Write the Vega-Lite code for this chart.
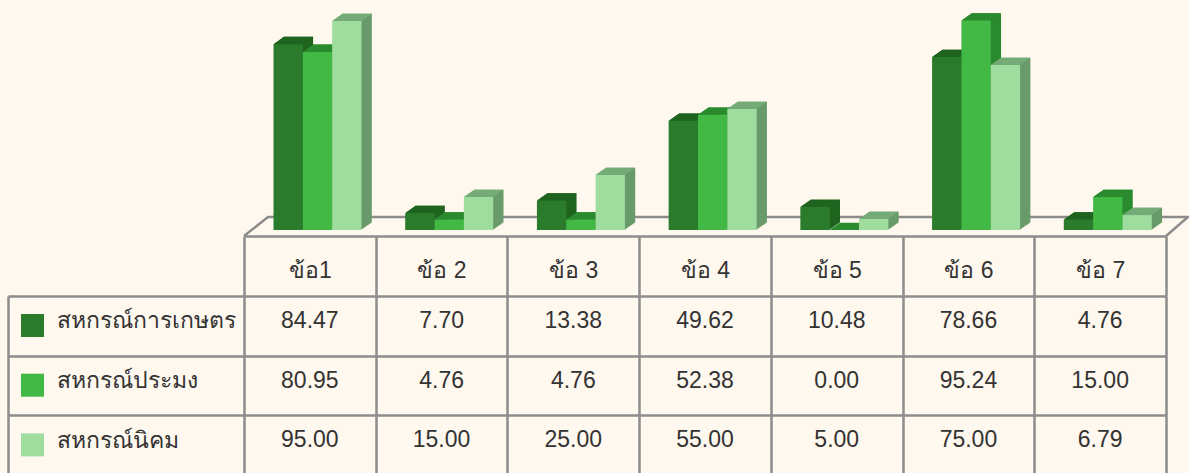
{"$schema":"https://vega.github.io/schema/vega-lite/v6.json","background":"#fff8ee","padding":{"left":6,"top":10,"right":1,"bottom":0},
"datasets":{"d":[
{"q":"ข้อ1","s":"สหกรณ์การเกษตร","v":84.47},{"q":"ข้อ 2","s":"สหกรณ์การเกษตร","v":7.70},{"q":"ข้อ 3","s":"สหกรณ์การเกษตร","v":13.38},{"q":"ข้อ 4","s":"สหกรณ์การเกษตร","v":49.62},{"q":"ข้อ 5","s":"สหกรณ์การเกษตร","v":10.48},{"q":"ข้อ 6","s":"สหกรณ์การเกษตร","v":78.66},{"q":"ข้อ 7","s":"สหกรณ์การเกษตร","v":4.76},
{"q":"ข้อ1","s":"สหกรณ์ประมง","v":80.95},{"q":"ข้อ 2","s":"สหกรณ์ประมง","v":4.76},{"q":"ข้อ 3","s":"สหกรณ์ประมง","v":4.76},{"q":"ข้อ 4","s":"สหกรณ์ประมง","v":52.38},{"q":"ข้อ 5","s":"สหกรณ์ประมง","v":0},{"q":"ข้อ 6","s":"สหกรณ์ประมง","v":95.24},{"q":"ข้อ 7","s":"สหกรณ์ประมง","v":15.00},
{"q":"ข้อ1","s":"สหกรณ์นิคม","v":95.00},{"q":"ข้อ 2","s":"สหกรณ์นิคม","v":15.00},{"q":"ข้อ 3","s":"สหกรณ์นิคม","v":25.00},{"q":"ข้อ 4","s":"สหกรณ์นิคม","v":55.00},{"q":"ข้อ 5","s":"สหกรณ์นิคม","v":5.00},{"q":"ข้อ 6","s":"สหกรณ์นิคม","v":75.00},{"q":"ข้อ 7","s":"สหกรณ์นิคม","v":6.79}]},
"data":{"name":"d"},
"spacing":-7,
"config":{"view":{"stroke":null},"font":"Liberation Sans"},
"vconcat":[
{"width":922,"height":220,
"encoding":{
"x":{"field":"q","type":"nominal","sort":null,"axis":null,"scale":{"type":"band","domain":["ข้อ1","ข้อ 2","ข้อ 3","ข้อ 4","ข้อ 5","ข้อ 6","ข้อ 7"],"paddingInner":0,"paddingOuter":0}}
},
"resolve":{"scale":{"color":"independent","xOffset":"independent","y":"independent"}},
"layer":[
{"transform":[{"filter":"datum.q==='ข้อ 4' && datum.v===49.62"}],
 "mark":{"type":"point","shape":"M-439.3 6L-415.3 -13L504.7 -13L482.7 6","size":4,"filled":false,"stroke":"#8c8c8c","strokeWidth":2.5,"opacity":1},
 "encoding":{"xOffset":{"field":"s","type":"nominal","scale":{"type":"band","domain":["สหกรณ์การเกษตร","สหกรณ์ประมง","สหกรณ์นิคม"],"range":[29.5,117.5],"paddingInner":0,"paddingOuter":0}},"y":{"datum":0,"type":"quantitative","axis":null,"scale":{"domain":[0,100],"range":[220,0]}}}},
{"mark":{"type":"bar"},"encoding":{"xOffset":{"field":"s","type":"nominal","sort":null,"scale":{"type":"band","domain":["สหกรณ์การเกษตร","สหกรณ์ประมง","สหกรณ์นิคม"],"range":[30.53,118.53],"paddingInner":0,"paddingOuter":0}},"y":{"field":"v","type":"quantitative","axis":null,"scale":{"domain":[0,100],"range":[219.27,-0.73]}},"color":{"field":"s","sort":null,"scale":{"domain":["สหกรณ์การเกษตร","สหกรณ์ประมง","สหกรณ์นิคม"],"range":["#1e641f","#2a8a2e","#689a6a"]},"legend":null}}},
{"mark":{"type":"bar"},"encoding":{"xOffset":{"field":"s","type":"nominal","sort":null,"scale":{"type":"band","domain":["สหกรณ์การเกษตร","สหกรณ์ประมง","สหกรณ์นิคม"],"range":[31.56,119.56],"paddingInner":0,"paddingOuter":0}},"y":{"field":"v","type":"quantitative","axis":null,"scale":{"domain":[0,100],"range":[218.54,-1.46]}},"color":{"field":"s","sort":null,"scale":{"domain":["สหกรณ์การเกษตร","สหกรณ์ประมง","สหกรณ์นิคม"],"range":["#1e641f","#2a8a2e","#689a6a"]},"legend":null}}},
{"mark":{"type":"bar"},"encoding":{"xOffset":{"field":"s","type":"nominal","sort":null,"scale":{"type":"band","domain":["สหกรณ์การเกษตร","สหกรณ์ประมง","สหกรณ์นิคม"],"range":[32.59,120.59],"paddingInner":0,"paddingOuter":0}},"y":{"field":"v","type":"quantitative","axis":null,"scale":{"domain":[0,100],"range":[217.81,-2.19]}},"color":{"field":"s","sort":null,"scale":{"domain":["สหกรณ์การเกษตร","สหกรณ์ประมง","สหกรณ์นิคม"],"range":["#1e641f","#2a8a2e","#689a6a"]},"legend":null}}},
{"mark":{"type":"bar"},"encoding":{"xOffset":{"field":"s","type":"nominal","sort":null,"scale":{"type":"band","domain":["สหกรณ์การเกษตร","สหกรณ์ประมง","สหกรณ์นิคม"],"range":[33.62,121.62],"paddingInner":0,"paddingOuter":0}},"y":{"field":"v","type":"quantitative","axis":null,"scale":{"domain":[0,100],"range":[217.08,-2.92]}},"color":{"field":"s","sort":null,"scale":{"domain":["สหกรณ์การเกษตร","สหกรณ์ประมง","สหกรณ์นิคม"],"range":["#1e641f","#2a8a2e","#689a6a"]},"legend":null}}},
{"mark":{"type":"bar"},"encoding":{"xOffset":{"field":"s","type":"nominal","sort":null,"scale":{"type":"band","domain":["สหกรณ์การเกษตร","สหกรณ์ประมง","สหกรณ์นิคม"],"range":[34.65,122.65],"paddingInner":0,"paddingOuter":0}},"y":{"field":"v","type":"quantitative","axis":null,"scale":{"domain":[0,100],"range":[216.35,-3.65]}},"color":{"field":"s","sort":null,"scale":{"domain":["สหกรณ์การเกษตร","สหกรณ์ประมง","สหกรณ์นิคม"],"range":["#1e641f","#2a8a2e","#689a6a"]},"legend":null}}},
{"mark":{"type":"bar"},"encoding":{"xOffset":{"field":"s","type":"nominal","sort":null,"scale":{"type":"band","domain":["สหกรณ์การเกษตร","สหกรณ์ประมง","สหกรณ์นิคม"],"range":[35.68,123.68],"paddingInner":0,"paddingOuter":0}},"y":{"field":"v","type":"quantitative","axis":null,"scale":{"domain":[0,100],"range":[215.62,-4.38]}},"color":{"field":"s","sort":null,"scale":{"domain":["สหกรณ์การเกษตร","สหกรณ์ประมง","สหกรณ์นิคม"],"range":["#1e641f","#2a8a2e","#689a6a"]},"legend":null}}},
{"mark":{"type":"bar"},"encoding":{"xOffset":{"field":"s","type":"nominal","sort":null,"scale":{"type":"band","domain":["สหกรณ์การเกษตร","สหกรณ์ประมง","สหกรณ์นิคม"],"range":[36.71,124.71],"paddingInner":0,"paddingOuter":0}},"y":{"field":"v","type":"quantitative","axis":null,"scale":{"domain":[0,100],"range":[214.89,-5.11]}},"color":{"field":"s","sort":null,"scale":{"domain":["สหกรณ์การเกษตร","สหกรณ์ประมง","สหกรณ์นิคม"],"range":["#1e641f","#2a8a2e","#689a6a"]},"legend":null}}},
{"mark":{"type":"bar"},"encoding":{"xOffset":{"field":"s","type":"nominal","sort":null,"scale":{"type":"band","domain":["สหกรณ์การเกษตร","สหกรณ์ประมง","สหกรณ์นิคม"],"range":[37.74,125.74],"paddingInner":0,"paddingOuter":0}},"y":{"field":"v","type":"quantitative","axis":null,"scale":{"domain":[0,100],"range":[214.16,-5.84]}},"color":{"field":"s","sort":null,"scale":{"domain":["สหกรณ์การเกษตร","สหกรณ์ประมง","สหกรณ์นิคม"],"range":["#1e641f","#2a8a2e","#689a6a"]},"legend":null}}},
{"mark":{"type":"bar"},"encoding":{"xOffset":{"field":"s","type":"nominal","sort":null,"scale":{"type":"band","domain":["สหกรณ์การเกษตร","สหกรณ์ประมง","สหกรณ์นิคม"],"range":[38.77,126.77],"paddingInner":0,"paddingOuter":0}},"y":{"field":"v","type":"quantitative","axis":null,"scale":{"domain":[0,100],"range":[213.43,-6.57]}},"color":{"field":"s","sort":null,"scale":{"domain":["สหกรณ์การเกษตร","สหกรณ์ประมง","สหกรณ์นิคม"],"range":["#1e641f","#2a8a2e","#689a6a"]},"legend":null}}},
{"mark":{"type":"bar"},"encoding":{"xOffset":{"field":"s","type":"nominal","sort":null,"scale":{"type":"band","domain":["สหกรณ์การเกษตร","สหกรณ์ประมง","สหกรณ์นิคม"],"range":[39.8,127.8],"paddingInner":0,"paddingOuter":0}},"y":{"field":"v","type":"quantitative","axis":null,"scale":{"domain":[0,100],"range":[212.7,-7.3]}},"color":{"field":"s","sort":null,"scale":{"domain":["สหกรณ์การเกษตร","สหกรณ์ประมง","สหกรณ์นิคม"],"range":["#1e641f","#2a8a2e","#689a6a"]},"legend":null}}},
{"mark":{"type":"point","shape":"M-14.67 0L14.67 0L24.97 -7.3L-4.37 -7.3Z","size":4,"filled":true,"opacity":1},"encoding":{"xOffset":{"field":"s","type":"nominal","sort":null,"scale":{"type":"band","domain":["สหกรณ์การเกษตร","สหกรณ์ประมง","สหกรณ์นิคม"],"range":[29.5,117.5],"paddingInner":0,"paddingOuter":0}},"y":{"field":"v","type":"quantitative","axis":null,"scale":{"domain":[0,100],"range":[220,0]}},"color":{"field":"s","sort":null,"scale":{"domain":["สหกรณ์การเกษตร","สหกรณ์ประมง","สหกรณ์นิคม"],"range":["#1e641f","#2a8a2e","#74ab76"]},"legend":null}}},
{"mark":{"type":"bar"},"encoding":{"xOffset":{"field":"s","type":"nominal","sort":null,"scale":{"type":"band","domain":["สหกรณ์การเกษตร","สหกรณ์ประมง","สหกรณ์นิคม"],"range":[29.5,117.5],"paddingInner":0,"paddingOuter":0}},"y":{"field":"v","type":"quantitative","axis":null,"scale":{"domain":[0,100],"range":[220,0]}},"color":{"field":"s","sort":null,"scale":{"domain":["สหกรณ์การเกษตร","สหกรณ์ประมง","สหกรณ์นิคม"],"range":["#2a7b2b","#42b945","#9fdd9f"]},"legend":null}}}
]},
{"width":922,"height":179,
"encoding":{
"x":{"field":"q","type":"nominal","sort":null,"title":null,"scale":{"type":"band","domain":["ข้อ1","ข้อ 2","ข้อ 3","ข้อ 4","ข้อ 5","ข้อ 6","ข้อ 7"],"paddingInner":0,"paddingOuter":0},
 "axis":{"orient":"top","offset":60,"tickBand":"extent","tickSize":-60,"tickColor":"#8c8c8c","tickWidth":2.5,"domainColor":"#8c8c8c","domainWidth":2.5,"grid":true,"gridColor":"#8c8c8c","gridWidth":2.5,"labelAngle":0,"labelFontSize":23,"labelColor":"#333333","labelPadding":14,"labelFontWeight":"normal"}},
"y":{"field":"s","type":"nominal","sort":null,"title":null,"scale":{"type":"band","domain":["สหกรณ์การเกษตร","สหกรณ์ประมง","สหกรณ์นิคม"],"paddingInner":0,"paddingOuter":0},
 "axis":{"orient":"left","offset":236,"tickBand":"extent","tickSize":-236,"tickColor":"#8c8c8c","tickWidth":2.5,"domainColor":"#8c8c8c","domainWidth":2.5,"grid":true,"gridColor":"#8c8c8c","gridWidth":2.5,"labelAlign":"left","labelBaseline":"middle","labelPadding":188,"labelOffset":-5,"labelFontSize":23,"labelColor":"#333333","labelLimit":300}}
},
"layer":[
{"mark":{"type":"text","fontSize":23,"color":"#333333","dy":-5},"encoding":{"text":{"field":"v","type":"quantitative","format":".2f"}}},
{"mark":{"type":"square","opacity":0,"size":1},"encoding":{"color":{"field":"s","type":"nominal","sort":null,"scale":{"domain":["สหกรณ์การเกษตร","สหกรณ์ประมง","สหกรณ์นิคม"],"range":["#2a7b2b","#42b945","#9fdd9f"]},
 "legend":{"orient":"none","legendX":-223,"legendY":304,"title":null,"symbolType":"square","symbolSize":529,"symbolOpacity":1,"symbolStrokeWidth":0,"labelExpr":"''","labelFontSize":23,"rowPadding":35.7,"padding":0}}}}
]}
]}
